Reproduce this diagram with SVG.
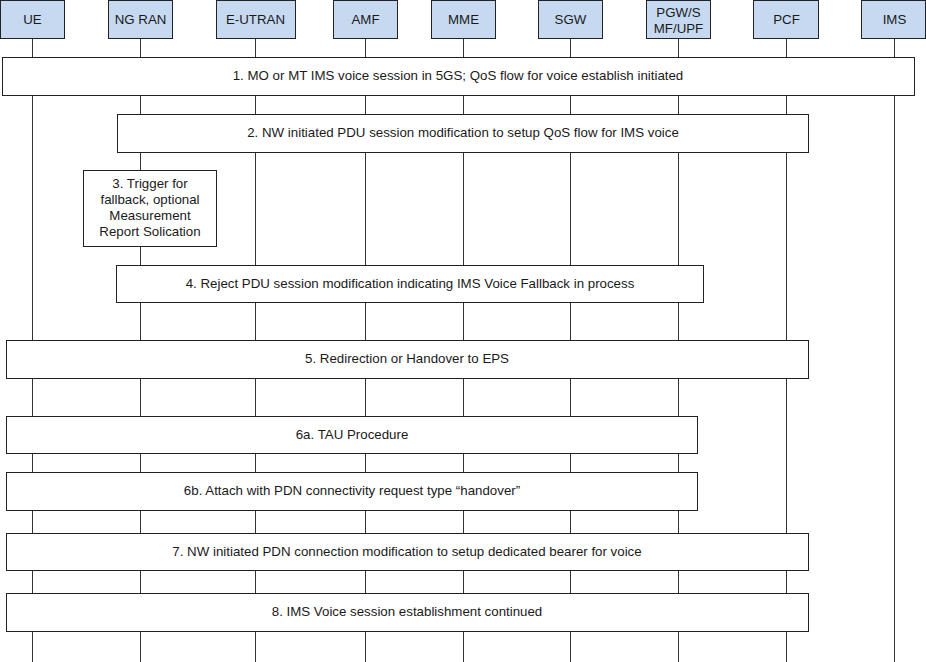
<svg xmlns="http://www.w3.org/2000/svg" width="926" height="662" viewBox="0 0 926 662">
<style>
.hd{fill:#c6d9f1;stroke:#222;stroke-width:1}
.bx{fill:#fff;stroke:#222;stroke-width:1}
.ll{stroke:#333;stroke-width:1}
text{font-family:"Liberation Sans",Arial,sans-serif;font-size:13.3px;fill:#1a1a1a;text-anchor:middle}
</style>
<rect width="926" height="662" fill="#fff"/>
<g id="lifelines">
<line class="ll" x1="32.5" y1="38" x2="32.5" y2="662"/>
<line class="ll" x1="140.5" y1="38" x2="140.5" y2="662"/>
<line class="ll" x1="255.5" y1="38" x2="255.5" y2="662"/>
<line class="ll" x1="365.5" y1="38" x2="365.5" y2="662"/>
<line class="ll" x1="463.5" y1="38" x2="463.5" y2="662"/>
<line class="ll" x1="570.5" y1="38" x2="570.5" y2="662"/>
<line class="ll" x1="678.5" y1="38" x2="678.5" y2="662"/>
<line class="ll" x1="786.5" y1="38" x2="786.5" y2="662"/>
<line class="ll" x1="894.5" y1="38" x2="894.5" y2="662"/>
</g>
<g id="UE"><rect class="hd" x="0.5" y="0.5" width="64" height="38"/><text x="32.5" y="24">UE</text></g>
<g id="NGRAN"><rect class="hd" x="108.5" y="0.5" width="64" height="38"/><text x="140.5" y="24">NG RAN</text></g>
<g id="EUTRAN"><rect class="hd" x="216.5" y="0.5" width="79" height="38"/><text x="255.5" y="24">E-UTRAN</text></g>
<g id="AMF"><rect class="hd" x="333.5" y="0.5" width="64" height="38"/><text x="365.5" y="24">AMF</text></g>
<g id="MME"><rect class="hd" x="431.5" y="0.5" width="64" height="38"/><text x="463.5" y="24">MME</text></g>
<g id="SGW"><rect class="hd" x="538.5" y="0.5" width="64" height="38"/><text x="570.5" y="24">SGW</text></g>
<g id="PGW"><rect class="hd" x="646.5" y="0.5" width="64" height="38"/><text x="678.5" y="17">PGW/S</text><text x="678.5" y="33">MF/UPF</text></g>
<g id="PCF"><rect class="hd" x="753.5" y="0.5" width="65" height="38"/><text x="786.5" y="24">PCF</text></g>
<g id="IMS"><rect class="hd" x="861.5" y="0.5" width="64" height="38"/><text x="894.5" y="24">IMS</text></g>
<g id="step1"><rect class="bx" x="2.5" y="57.5" width="912" height="38"/><text x="458" y="80">1. MO or MT IMS voice session in 5GS; QoS flow for voice establish initiated</text></g>
<g id="step2"><rect class="bx" x="117.5" y="114.5" width="691" height="38"/><text x="463" y="137">2. NW initiated PDU session modification to setup QoS flow for IMS voice</text></g>
<g id="step3"><rect class="bx" x="83.5" y="170.5" width="133" height="76"/><text x="150" y="188">3. Trigger for</text><text x="150" y="204">fallback, optional</text><text x="150" y="220">Measurement</text><text x="150" y="236">Report Solication</text></g>
<g id="step4"><rect class="bx" x="116.5" y="265.5" width="587" height="37"/><text x="410" y="288">4. Reject PDU session modification indicating IMS Voice Fallback in process</text></g>
<g id="step5"><rect class="bx" x="6.5" y="340.5" width="802" height="38"/><text x="407" y="363">5. Redirection or Handover to EPS</text></g>
<g id="step6a"><rect class="bx" x="6.5" y="416.5" width="691" height="37"/><text x="352" y="439">6a. TAU Procedure</text></g>
<g id="step6b"><rect class="bx" x="6.5" y="472.5" width="691" height="38"/><text x="352" y="495">6b. Attach with PDN connectivity request type “handover”</text></g>
<g id="step7"><rect class="bx" x="6.5" y="533.5" width="802" height="37"/><text x="407" y="556">7. NW initiated PDN connection modification to setup dedicated bearer for voice</text></g>
<g id="step8"><rect class="bx" x="6.5" y="593.5" width="802" height="38"/><text x="407" y="616">8. IMS Voice session establishment continued</text></g>
</svg>
